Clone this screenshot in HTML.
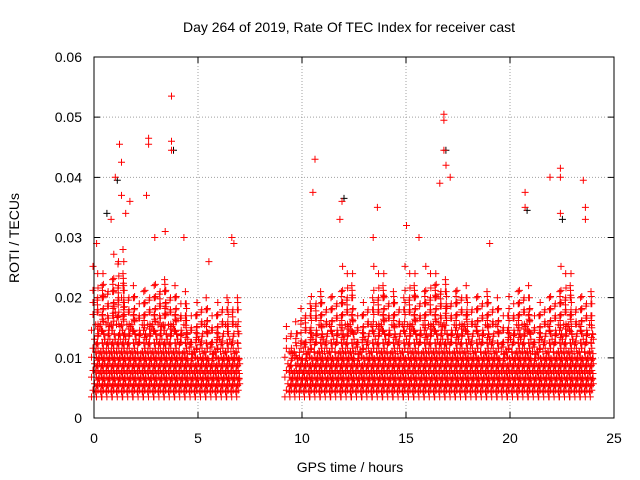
<!DOCTYPE html>
<html><head><meta charset="utf-8"><style>
body{margin:0;background:#fff}
svg{display:block;font-family:"Liberation Sans",sans-serif}
</style></head><body>
<svg id="chart" width="640" height="480">
<text x="349" y="32" font-size="14" text-anchor="middle">Day 264 of 2019, Rate Of TEC Index for receiver cast</text>
<text x="350" y="472" font-size="14" text-anchor="middle">GPS time / hours</text>
<text transform="translate(19,238) rotate(-90)" font-size="14" text-anchor="middle">ROTI / TECUs</text>
<g id="grid"></g>
<g id="ticks"></g>
<path id="black" stroke="#000" stroke-width="1" fill="none"/>
<path id="red" stroke="#f00" stroke-width="1" fill="none"/>
<rect x="94" y="57" width="520" height="361" fill="none" stroke="#000"/>
</svg>
<script>
const xTicks=[0,5,10,15,20,25];
const yTicks=[0,0.01,0.02,0.03,0.04,0.05,0.06];
const yTickLabels=["0","0.01","0.02","0.03","0.04","0.05","0.06"];
const binTimes=[0,0.5,1,1.5,2,2.5,3,3.5,4,4.5,5,5.5,6,6.5,9.5,10,10.5,11,11.5,12,12.5,13,13.5,14,14.5,15,15.5,16,16.5,17,17.5,18,18.5,19,19.5,20,20.5,21,21.5,22,22.5,23,23.5];
const denseTop=[0.016,0.017,0.018,0.016,0.015,0.016,0.017,0.016,0.015,0.013,0.014,0.013,0.014,0.014,0.012,0.013,0.015,0.014,0.015,0.016,0.013,0.014,0.016,0.015,0.014,0.016,0.015,0.016,0.017,0.015,0.016,0.014,0.015,0.014,0.013,0.015,0.016,0.013,0.014,0.015,0.016,0.014,0.015];
const sparseTop=[0.026,0.025,0.029,0.023,0.021,0.023,0.026,0.023,0.021,0.019,0.021,0.019,0.021,0.023,0.017,0.021,0.024,0.021,0.023,0.026,0.019,0.021,0.026,0.023,0.021,0.026,0.023,0.026,0.026,0.023,0.023,0.021,0.023,0.021,0.019,0.021,0.023,0.019,0.021,0.023,0.026,0.021,0.023];
const lowVal=0.0035;
const outT=[0.1,0.8,1.0,1.2,1.3,1.3,1.7,2.6,2.6,2.5,3.7,3.7,3.7,4.3,6.6,6.7,10.6,10.5,11.9,13.6,15.0,16.6,16.8,16.8,16.8,16.9,17.1,19.0,20.7,20.7,21.9,22.4,22.4,22.4,23.5,23.6,23.6,1.5,2.9,3.4,5.5,11.8,13.4,15.6];
const outV=[0.029,0.033,0.040,0.0455,0.0425,0.037,0.036,0.0465,0.0455,0.037,0.0535,0.046,0.0445,0.030,0.030,0.029,0.043,0.0375,0.036,0.035,0.032,0.039,0.0505,0.0495,0.0445,0.042,0.040,0.029,0.0375,0.035,0.040,0.0415,0.040,0.034,0.0395,0.035,0.033,0.034,0.030,0.031,0.026,0.033,0.030,0.030];
const blackT=[1.0,3.7,16.8,22.4,20.7,11.9,0.5];
const blackV=[0.0395,0.0445,0.0445,0.033,0.0345,0.0365,0.034];
const X=v=>94+v*520/25, Y=v=>418-v*361/0.06;
const NS='http://www.w3.org/2000/svg';
const grid=document.getElementById('grid'),ticks=document.getElementById('ticks');
function mk(tag,attrs,parent){const e=document.createElementNS(NS,tag);for(const k in attrs)e.setAttribute(k,attrs[k]);parent.appendChild(e);return e;}
xTicks.forEach((t,i)=>{
  if(i>0&&i<xTicks.length-1){const g=mk('line',{x1:X(t),x2:X(t),y1:57,y2:418,stroke:'#a0a0a0','stroke-dasharray':'1,2'},grid);
  
  }
  const tx=mk('text',{x:X(t),y:443,'font-size':14,'text-anchor':'middle'},ticks);tx.textContent=t;
  
  
  mk('path',{d:`M${X(t)} 418v-6M${X(t)} 57v6`,stroke:'#000'},ticks);
});
yTicks.forEach((t,i)=>{
  if(i>0&&i<yTicks.length-1){const g=mk('line',{x1:94,x2:614,y1:Y(t),y2:Y(t),stroke:'#a0a0a0','stroke-dasharray':'1,2'},grid);
  
  }
  const tx=mk('text',{x:82,y:Y(t)+5,'font-size':14,'text-anchor':'end'},ticks);tx.textContent=yTickLabels[i];
  
  
  mk('path',{d:`M94 ${Y(t)}h6M614 ${Y(t)}h-6`,stroke:'#000'},ticks);
});
const plus=(x,y)=>`M${(x-3).toFixed(1)} ${y.toFixed(1)}h7M${(x+0.5).toFixed(1)} ${(y-3.5).toFixed(1)}v7`;
let d='';
binTimes.forEach((t,i)=>{
  const start=(t===9.5)?9.3:t, stop=(t===6.5)?7.0:t+0.5;
  let c=0;
  for(let h=start;h<stop-0.001;h+=0.06,c++){
    const off=((c*5)%4)*0.0004;
    const dt=denseTop[i]-((c*7)%5)*0.0012+((c*3)%4)*0.0008;
    const hx=X(h)+((c*3)%4)-1.5;
    let r=0;
    for(let v=lowVal+off+((c%2)?0.0005:0);v<=dt;r++){
      d+=plus(hx+((r%3)-1)*1.5,Y(v));
      v+= v<0.010?0.0011:0.0015;
    }
    r=0;
    const st=sparseTop[i]-((c*7)%5)*0.0013;
    for(let v=dt+0.0012+off;v<=st;v+=0.002,r++) if((c+r)%2===0||v<dt+0.004) d+=plus(hx,Y(v));
  }
});
outT.forEach((t,i)=>{d+=plus(X(t),Y(outV[i]));});
document.getElementById('red').setAttribute('d',d);
let b='';blackT.forEach((t,i)=>{b+=plus(X(t)+2,Y(blackV[i]));});
document.getElementById('black').setAttribute('d',b);
</script>
</body></html>
